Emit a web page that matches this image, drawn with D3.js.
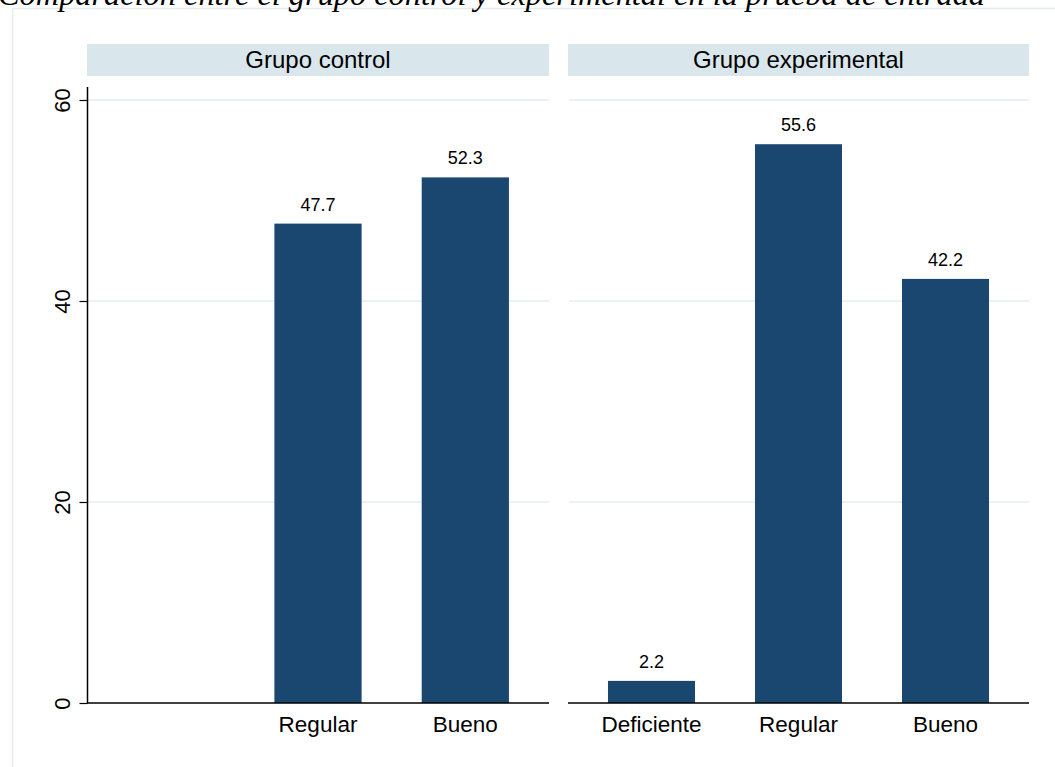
<!DOCTYPE html>
<html><head><meta charset="utf-8">
<script src="https://cdn.jsdelivr.net/npm/d3@7"></script>
<style>body{margin:0;background:#fff;}svg{display:block;}</style>
</head><body>
<script>
const title = "Comparación entre el grupo control y experimental en la prueba de entrada";
const categories = ["Deficiente", "Regular", "Bueno"];
const panels = ["Grupo control", "Grupo experimental"];
const controlValues = [null, 47.7, 52.3];
const experimentalValues = [2.2, 55.6, 42.2];
const yTicks = [0, 20, 40, 60];

const seriesByPanel = [controlValues, experimentalValues];
const W = 1055, H = 767;
const svg = d3.select("body").append("svg").attr("width", W).attr("height", H);
const font = "'Liberation Sans', Arial, sans-serif";

// outer frame
svg.append("rect").attr("x", 12.5).attr("y", 8.5).attr("width", W + 20).attr("height", H + 20)
  .attr("fill", "none").attr("stroke", "#e4ecef").attr("stroke-width", 1.5);

// title (partly cut off at top, as in the reference)
svg.append("text").attr("x", -2).attr("y", 5)
  .attr("font-family", "'Liberation Serif', 'Times New Roman', serif")
  .attr("font-style", "italic").attr("font-size", 32).attr("fill", "#000")
  .attr("textLength", 987).attr("lengthAdjust", "spacingAndGlyphs")
  .text(title);

const y = d3.scaleLinear().domain([0, 60]).range([703, 100]);
const panelX = [[87, 549], [568, 1029]];
const stripTop = 44, stripBottom = 76;

panels.forEach((p, i) => {
  const [x0, x1] = panelX[i];
  const g = svg.append("g");
  const x = d3.scaleBand().domain(categories).range([x0, x1]).paddingInner(0.408).paddingOuter(0.272);
  // strip
  g.append("rect").attr("x", x0).attr("y", stripTop).attr("width", x1 - x0).attr("height", stripBottom - stripTop)
    .attr("fill", "#d9e6eb");
  g.append("text").attr("x", (x0 + x1) / 2).attr("y", (stripTop + stripBottom) / 2 + 8)
    .attr("text-anchor", "middle").attr("font-family", font).attr("font-size", 24).attr("fill", "#000").text(p);
  // grid
  g.selectAll("line.grid").data(yTicks.filter(t => t > 0)).join("line")
    .attr("x1", x0 + 1).attr("x2", x1).attr("y1", d => y(d)).attr("y2", d => y(d))
    .attr("stroke", "#eaf2f3").attr("stroke-width", 2);
  // bars
  const data = categories.map((c, k) => ({c, v: seriesByPanel[i][k]})).filter(d => d.v != null);
  g.selectAll("rect.bar").data(data).join("rect")
    .attr("x", d => x(d.c)).attr("width", x.bandwidth())
    .attr("y", d => y(d.v)).attr("height", d => y(0) - y(d.v))
    .attr("fill", "#1a476f");
  g.selectAll("text.val").data(data).join("text")
    .attr("x", d => x(d.c) + x.bandwidth() / 2).attr("y", d => y(d.v) - 13)
    .attr("text-anchor", "middle").attr("font-family", font).attr("font-size", 18).attr("fill", "#000")
    .text(d => d.v.toFixed(1));
  // x axis
  const xa = g.append("g").attr("transform", `translate(0,${y(0)})`)
    .call(d3.axisBottom(x).tickSize(0).tickPadding(13).tickFormat(c => data.find(d => d.c === c) ? c : ""));
  xa.select(".domain").attr("stroke", "#000").attr("stroke-width", 1.5).attr("d", `M${x0},0H${x1}`);
  xa.selectAll("text").attr("font-family", font).attr("font-size", 22.5).attr("fill", "#000").attr("dy", "0.71em");
});

// y axis
const ya = svg.append("g").attr("transform", "translate(87.5,0)")
  .call(d3.axisLeft(y).tickValues(yTicks).tickSize(8).tickPadding(12).tickFormat(d3.format("d")));
ya.select(".domain").attr("stroke", "#000").attr("stroke-width", 1.5).attr("d", `M0,${y(0)}V${y(60)-13}`);
ya.selectAll(".tick line").attr("stroke", "#000").attr("stroke-width", 1.2);
ya.selectAll(".tick text").attr("font-family", font).attr("font-size", 22).attr("fill", "#000")
  .attr("text-anchor", "middle").attr("dy", 0)
  .attr("transform", "translate(-18,0) rotate(-90)")
  .attr("x", 0).attr("y", 0);
</script>
</body></html>
